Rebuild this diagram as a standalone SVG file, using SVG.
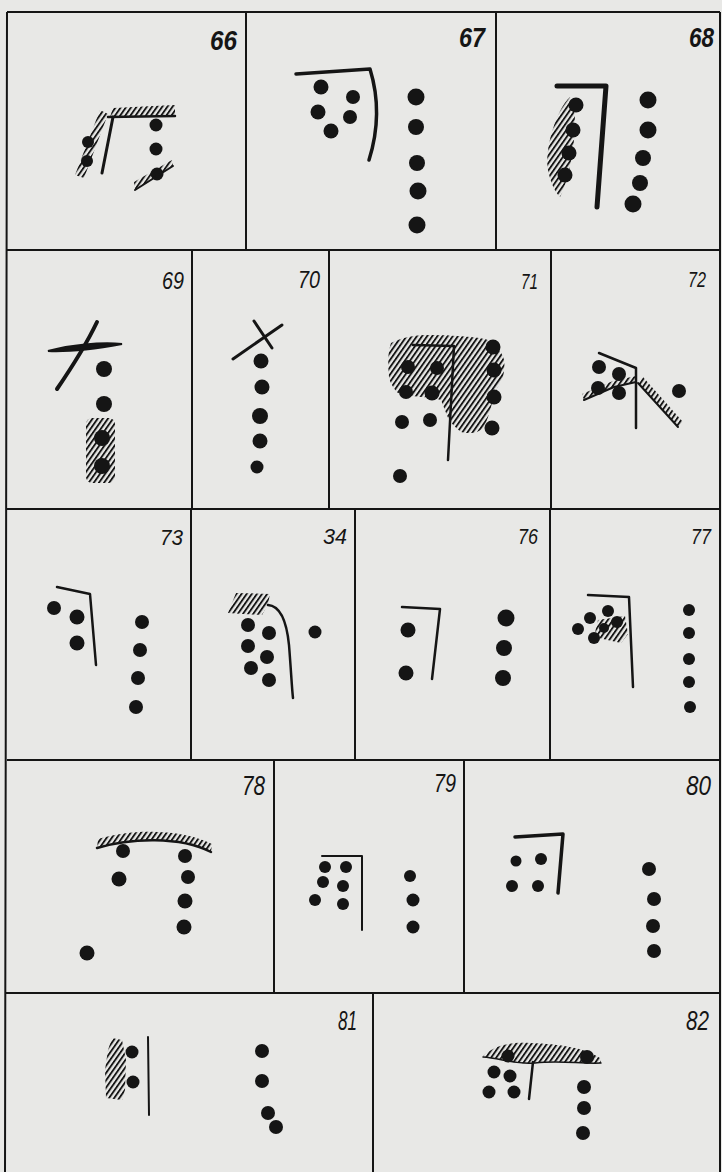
<svg xmlns="http://www.w3.org/2000/svg" width="722" height="1172" viewBox="0 0 722 1172">
<defs>
<pattern id="h" width="4.2" height="4.2" patternUnits="userSpaceOnUse" patternTransform="rotate(35)"><rect width="1.9" height="4.2" fill="#151515"/></pattern>
<style>
.bg{fill:#e8e8e6}
.fr{stroke:#151515;stroke-width:2;fill:none}
.d{fill:#151515}
.ln{stroke:#151515;fill:none;stroke-linecap:round;stroke-linejoin:round}
.ht{fill:url(#h)}
.lb{font-family:"Liberation Sans",Arial,sans-serif;font-style:italic;fill:#151515}
.b{font-weight:bold}
</style>
</defs>
<rect class="bg" x="0" y="0" width="722" height="1172"/>
<g id="frame" class="fr">
<path d="M7,12 L720,12 M7,12 L5,1172 M720,12 L720,1172"/>
<path d="M7,250 L720,250 M7,509 L720,509 M7,760 L720,760 M6,993 L720,993"/>
<path d="M246,12 L246,250 M496,12 L496,250"/>
<path d="M192,250 L192,509 M329,250 L329,509 M551,250 L551,509"/>
<path d="M191,509 L191,760 M355,509 L355,760 M550,509 L550,760"/>
<path d="M274,760 L274,993 M464,760 L464,993"/>
<path d="M373,993 L373,1172"/>
</g>
<g id="p66">
<text class="lb b" x="210" y="50" font-size="27" textLength="27" lengthAdjust="spacingAndGlyphs">66</text>
<polygon class="ht" points="113,108 175,105 175,116 110,117"/>
<path class="ln" stroke-width="2.5" d="M108,117 L175,116"/>
<path class="ln" stroke-width="3" d="M113,117 L102,173"/>
<polygon class="ht" points="100,110 108,114 84,178 75,175"/>
<circle class="d" cx="88" cy="142" r="6"/>
<circle class="d" cx="87" cy="161" r="6"/>
<circle class="d" cx="156" cy="125" r="6.5"/>
<circle class="d" cx="156" cy="149" r="6.5"/>
<circle class="d" cx="157" cy="174" r="6.5"/>
<polygon class="ht" points="135,190 173,166 172,160 134,182"/>
<path class="ln" stroke-width="2" d="M135,190 L173,166"/>
</g>
<g id="p67">
<text class="lb b" x="459" y="47" font-size="27" textLength="26" lengthAdjust="spacingAndGlyphs">67</text>
<path class="ln" stroke-width="3.5" d="M296,74 L370,69 C378,95 380,125 369,160"/>
<circle class="d" cx="321" cy="87" r="7.5"/>
<circle class="d" cx="353" cy="97" r="7"/>
<circle class="d" cx="318" cy="112" r="7.5"/>
<circle class="d" cx="350" cy="117" r="7"/>
<circle class="d" cx="331" cy="131" r="7.5"/>
<circle class="d" cx="416" cy="97" r="8.5"/>
<circle class="d" cx="416" cy="127" r="8"/>
<circle class="d" cx="417" cy="163" r="8"/>
<circle class="d" cx="418" cy="191" r="8.5"/>
<circle class="d" cx="417" cy="225" r="8.5"/>
</g>
<g id="p68">
<text class="lb b" x="689" y="47" font-size="27" textLength="25" lengthAdjust="spacingAndGlyphs">68</text>
<path class="ln" stroke-width="5" d="M557,86 L606,86 L597,207"/>
<path class="ht" d="M570,97 C556,110 544,150 548,170 C551,185 556,193 560,197 C568,180 572,160 574,140 C576,120 575,105 570,97 Z"/>
<circle class="d" cx="576" cy="105" r="7.5"/>
<circle class="d" cx="573" cy="130" r="7.5"/>
<circle class="d" cx="569" cy="153" r="7.5"/>
<circle class="d" cx="565" cy="175" r="7.5"/>
<circle class="d" cx="648" cy="100" r="8.5"/>
<circle class="d" cx="648" cy="130" r="8.5"/>
<circle class="d" cx="643" cy="158" r="8"/>
<circle class="d" cx="640" cy="183" r="8"/>
<circle class="d" cx="633" cy="204" r="8.5"/>
</g>
<g id="p69">
<text class="lb" x="162" y="289" font-size="24" textLength="22" lengthAdjust="spacingAndGlyphs">69</text>
<path class="d" d="M48,351 C70,345 100,342 122,344 C100,348 70,352 48,351 Z" stroke="#151515" stroke-width="2"/>
<path class="ln" stroke-width="4" d="M97,322 C86,345 70,370 57,389"/>
<rect class="ht" x="86" y="418" width="29" height="65" rx="6"/>
<circle class="d" cx="104" cy="369" r="8"/>
<circle class="d" cx="104" cy="404" r="8"/>
<circle class="d" cx="102" cy="438" r="8"/>
<circle class="d" cx="102" cy="466" r="8"/>
</g>
<g id="p70">
<text class="lb" x="298" y="288" font-size="24" textLength="22" lengthAdjust="spacingAndGlyphs">70</text>
<path class="ln" stroke-width="3" d="M233,359 L282,325 M254,321 L272,348"/>
<circle class="d" cx="261" cy="361" r="7.5"/>
<circle class="d" cx="262" cy="387" r="7.5"/>
<circle class="d" cx="260" cy="416" r="8"/>
<circle class="d" cx="260" cy="441" r="7.5"/>
<circle class="d" cx="257" cy="467" r="6.5"/>
</g>
<g id="p71">
<text class="lb" x="521" y="289" font-size="22" textLength="17" lengthAdjust="spacingAndGlyphs">71</text>
<path class="ht" d="M391,343 C405,336 418,335 428,335 C445,335 460,336 471,337 C480,338 488,339 491,342 C498,348 503,354 504,360 C505,366 504,372 503,377 C500,384 497,388 494,393 C493,398 492,403 491,407 C489,414 487,421 484,427 C480,431 476,433 471,433 C467,433 464,433 461,432 C456,428 452,424 449,420 C446,413 443,405 441,400 C435,398 428,397 421,397 C412,396 405,395 398,393 C394,389 390,383 389,377 C388,368 388,358 389,350 Z"/>
<path class="ln" stroke-width="2.5" d="M413,345 L454,346 L448,460"/>
<circle class="d" cx="408" cy="367" r="7"/>
<circle class="d" cx="437" cy="368" r="7"/>
<circle class="d" cx="406" cy="392" r="7"/>
<circle class="d" cx="432" cy="393" r="7.5"/>
<circle class="d" cx="402" cy="422" r="7"/>
<circle class="d" cx="430" cy="420" r="7"/>
<circle class="d" cx="400" cy="476" r="7"/>
<circle class="d" cx="493" cy="347" r="7.5"/>
<circle class="d" cx="494" cy="370" r="7.5"/>
<circle class="d" cx="494" cy="397" r="7.5"/>
<circle class="d" cx="492" cy="428" r="7.5"/>
</g>
<g id="p72">
<text class="lb" x="688" y="287" font-size="22" textLength="18" lengthAdjust="spacingAndGlyphs">72</text>
<path class="ln" stroke-width="2.5" d="M599,353 L636,368 L636,428"/>
<polygon class="ht" points="584,400 614,387 636,382 636,376 613,381 582,394"/>
<path class="ln" stroke-width="2" d="M584,400 L614,387 L636,382"/>
<polygon class="ht" points="638,383 678,427 683,422 643,377"/>
<path class="ln" stroke-width="2" d="M638,383 L678,427"/>
<circle class="d" cx="599" cy="367" r="7"/>
<circle class="d" cx="619" cy="374" r="7"/>
<circle class="d" cx="598" cy="388" r="7"/>
<circle class="d" cx="619" cy="393" r="7"/>
<circle class="d" cx="679" cy="391" r="7"/>
</g>
<g id="p73">
<text class="lb" x="160" y="545" font-size="22" textLength="23" lengthAdjust="spacingAndGlyphs">73</text>
<path class="ln" stroke-width="2.5" d="M57,587 L90,594 L96,665"/>
<circle class="d" cx="54" cy="608" r="7"/>
<circle class="d" cx="77" cy="617" r="7.5"/>
<circle class="d" cx="77" cy="643" r="7.5"/>
<circle class="d" cx="142" cy="622" r="7"/>
<circle class="d" cx="140" cy="650" r="7"/>
<circle class="d" cx="138" cy="678" r="7"/>
<circle class="d" cx="136" cy="707" r="7"/>
</g>
<g id="p34">
<text class="lb" x="323" y="544" font-size="22" textLength="24" lengthAdjust="spacingAndGlyphs">34</text>
<polygon class="ht" points="236,593 270,594 268,604 262,615 228,613"/>
<path class="ln" stroke-width="2.5" d="M268,605 C282,606 287,625 289,645 C291,670 292,690 293,698"/>
<circle class="d" cx="248" cy="625" r="7"/>
<circle class="d" cx="269" cy="633" r="7"/>
<circle class="d" cx="248" cy="646" r="7"/>
<circle class="d" cx="267" cy="657" r="7"/>
<circle class="d" cx="251" cy="668" r="7"/>
<circle class="d" cx="269" cy="680" r="7"/>
<circle class="d" cx="315" cy="632" r="6.5"/>
</g>
<g id="p76">
<text class="lb" x="518" y="544" font-size="22" textLength="20" lengthAdjust="spacingAndGlyphs">76</text>
<path class="ln" stroke-width="2.5" d="M402,607 L440,609 L432,679"/>
<circle class="d" cx="408" cy="630" r="7.5"/>
<circle class="d" cx="406" cy="673" r="7.5"/>
<circle class="d" cx="506" cy="618" r="8.5"/>
<circle class="d" cx="504" cy="648" r="8"/>
<circle class="d" cx="503" cy="678" r="8"/>
</g>
<g id="p77">
<text class="lb" x="691" y="544" font-size="22" textLength="20" lengthAdjust="spacingAndGlyphs">77</text>
<path class="ln" stroke-width="2.5" d="M588,595 L629,597 L633,687"/>
<polygon class="ht" points="598,620 625,616 628,634 621,643 594,637"/>
<circle class="d" cx="578" cy="629" r="6"/>
<circle class="d" cx="590" cy="618" r="6"/>
<circle class="d" cx="608" cy="611" r="6"/>
<circle class="d" cx="617" cy="622" r="6"/>
<circle class="d" cx="604" cy="628" r="5"/>
<circle class="d" cx="594" cy="638" r="6"/>
<circle class="d" cx="689" cy="610" r="6"/>
<circle class="d" cx="689" cy="633" r="6"/>
<circle class="d" cx="689" cy="659" r="6"/>
<circle class="d" cx="689" cy="682" r="6"/>
<circle class="d" cx="690" cy="707" r="6"/>
</g>
<g id="p78">
<text class="lb" x="242" y="795" font-size="27" textLength="23" lengthAdjust="spacingAndGlyphs">78</text>
<path class="ht" d="M97,848 C130,838 180,836 211,852 L212,844 C180,828 130,829 98,839 Z"/>
<path class="ln" stroke-width="2.5" d="M97,848 C130,838 180,836 211,852"/>
<circle class="d" cx="123" cy="851" r="7"/>
<circle class="d" cx="185" cy="856" r="7"/>
<circle class="d" cx="119" cy="879" r="7.5"/>
<circle class="d" cx="188" cy="877" r="7"/>
<circle class="d" cx="185" cy="901" r="7.5"/>
<circle class="d" cx="184" cy="927" r="7.5"/>
<circle class="d" cx="87" cy="953" r="7.5"/>
</g>
<g id="p79">
<text class="lb" x="434" y="792" font-size="25" textLength="22" lengthAdjust="spacingAndGlyphs">79</text>
<path class="ln" stroke-width="2" d="M322,856 L362,856 L362,930"/>
<circle class="d" cx="325" cy="867" r="6"/>
<circle class="d" cx="346" cy="867" r="6"/>
<circle class="d" cx="323" cy="882" r="6"/>
<circle class="d" cx="343" cy="886" r="6"/>
<circle class="d" cx="315" cy="900" r="6"/>
<circle class="d" cx="343" cy="904" r="6"/>
<circle class="d" cx="410" cy="876" r="6"/>
<circle class="d" cx="413" cy="900" r="6.5"/>
<circle class="d" cx="413" cy="927" r="6.5"/>
</g>
<g id="p80">
<text class="lb" x="686" y="795" font-size="27" textLength="25" lengthAdjust="spacingAndGlyphs">80</text>
<path class="ln" stroke-width="3.5" d="M515,837 L563,834 L558,893"/>
<circle class="d" cx="516" cy="861" r="5.5"/>
<circle class="d" cx="541" cy="859" r="6"/>
<circle class="d" cx="512" cy="886" r="6"/>
<circle class="d" cx="538" cy="886" r="6"/>
<circle class="d" cx="649" cy="869" r="7"/>
<circle class="d" cx="654" cy="899" r="7"/>
<circle class="d" cx="653" cy="926" r="7"/>
<circle class="d" cx="654" cy="951" r="7"/>
</g>
<g id="p81">
<text class="lb" x="338" y="1030" font-size="27" textLength="19" lengthAdjust="spacingAndGlyphs">81</text>
<polygon class="ht" points="112,1038 122,1040 126,1060 125,1090 122,1100 106,1098 105,1070 108,1050"/>
<path class="ln" stroke-width="2" d="M148,1037 L149,1115"/>
<circle class="d" cx="132" cy="1052" r="6.5"/>
<circle class="d" cx="133" cy="1082" r="6.5"/>
<circle class="d" cx="262" cy="1051" r="7"/>
<circle class="d" cx="262" cy="1081" r="7"/>
<circle class="d" cx="268" cy="1113" r="7"/>
<circle class="d" cx="276" cy="1127" r="7"/>
</g>
<g id="p82">
<text class="lb" x="686" y="1030" font-size="27" textLength="23" lengthAdjust="spacingAndGlyphs">82</text>
<path class="ht" d="M483,1056 C495,1045 510,1042 530,1043 C560,1044 585,1048 600,1058 L601,1063 C580,1064 560,1060 535,1063 C515,1065 500,1058 483,1057 Z"/>
<path class="ln" stroke-width="1.5" d="M483,1057 C500,1058 515,1065 535,1063 C560,1060 580,1064 601,1063"/>
<path class="ln" stroke-width="2.5" d="M533,1062 L529,1099"/>
<circle class="d" cx="508" cy="1056" r="6.5"/>
<circle class="d" cx="587" cy="1057" r="7"/>
<circle class="d" cx="494" cy="1072" r="6.5"/>
<circle class="d" cx="510" cy="1076" r="6.5"/>
<circle class="d" cx="489" cy="1092" r="6.5"/>
<circle class="d" cx="514" cy="1092" r="6.5"/>
<circle class="d" cx="584" cy="1087" r="7"/>
<circle class="d" cx="584" cy="1108" r="7"/>
<circle class="d" cx="583" cy="1133" r="7"/>
</g>
</svg>
